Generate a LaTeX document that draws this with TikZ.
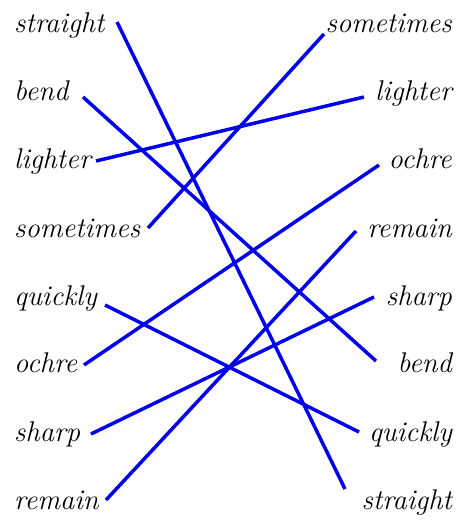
\documentclass[tikz,border=0pt]{standalone}
\begin{document}
\begin{tikzpicture}[x=1pt,y=-1pt,
  word/.style={font=\fontsize{28.5}{31}\selectfont\itshape, inner sep=0pt},
  lw/.style={word, anchor=base west},
  rw/.style={word, anchor=base east},
  link/.style={draw={rgb,255:red,0;green,0;blue,235}, line width=3.5pt}]
\useasboundingbox (0,0) rectangle (465,524);
% left words
\node[lw] (L1) at (14,33) {straight};
\node[lw] (L2) at (14,101) {bend};
\node[lw] (L3) at (14,168) {lighter};
\node[lw] (L4) at (14,237) {sometimes};
\node[lw] (L5) at (14,305) {quickly};
\node[lw] (L6) at (14,372) {ochre};
\node[lw] (L7) at (14,441) {sharp};
\node[lw] (L8) at (14,509) {remain};
% right words
\node[rw] (R1) at (452,33) {sometimes};
\node[rw] (R2) at (452,101) {lighter};
\node[rw] (R3) at (452,168) {ochre};
\node[rw] (R4) at (452,237) {remain};
\node[rw] (R5) at (452,305) {sharp};
\node[rw] (R6) at (452,372) {bend};
\node[rw] (R7) at (452,441) {quickly};
\node[rw] (R8) at (452,509) {straight};
% line ends
\coordinate (a1) at (117,22);
\coordinate (a2) at (83,97);
\coordinate (a3) at (96,161);
\coordinate (a4) at (148,228);
\coordinate (a5) at (105,305);
\coordinate (a6) at (84,365);
\coordinate (a7) at (91,434);
\coordinate (a8) at (106,500);
\coordinate (b1) at (324,34);
\coordinate (b2) at (364,97);
\coordinate (b3) at (379,165);
\coordinate (b4) at (356,231);
\coordinate (b5) at (374,297);
\coordinate (b6) at (376,361);
\coordinate (b7) at (359,432);
\coordinate (b8) at (345,489);
\draw[link] (a1) -- (b8);
\draw[link] (a2) -- (b6);
\draw[link] (a3) -- (b2);
\draw[link] (a4) -- (b1);
\draw[link] (a5) -- (b7);
\draw[link] (a6) -- (b3);
\draw[link] (a7) -- (b5);
\draw[link] (a8) -- (b4);
\end{tikzpicture}
\end{document}
